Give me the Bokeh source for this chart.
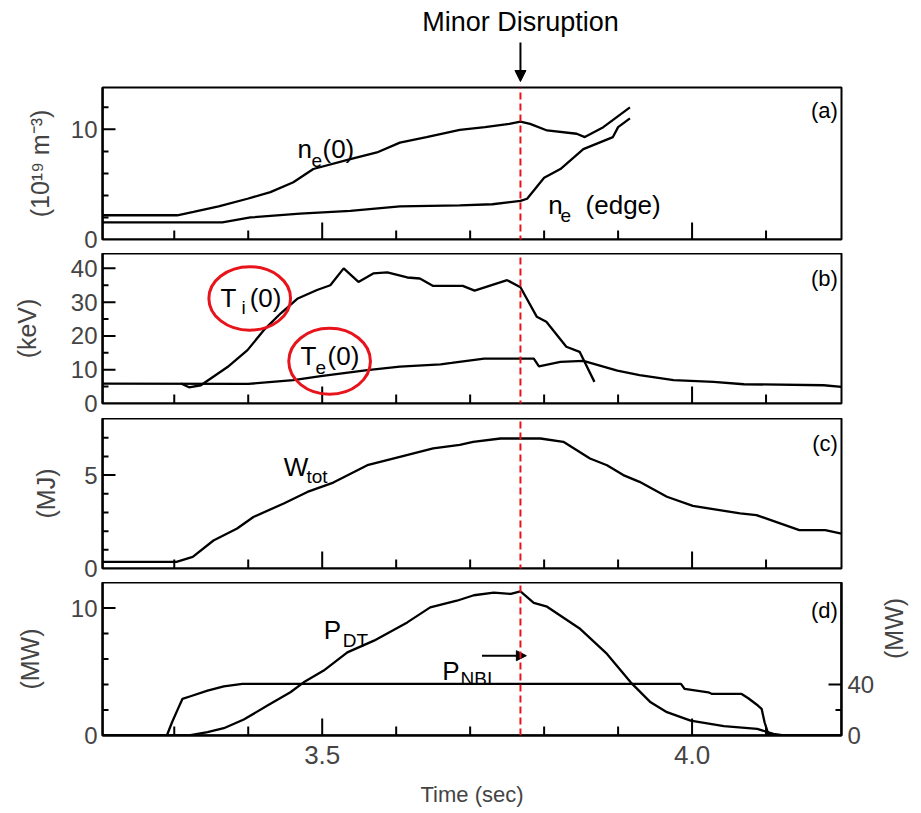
import math
from bokeh.plotting import figure
from bokeh.layouts import column
from bokeh.models import (Range1d, LinearAxis, FixedTicker, Arrow, NormalHead,
                          PrintfTickFormatter, Label)
from bokeh.core.properties import value
from bokeh.embed import file_html
from bokeh.resources import INLINE

FONT = "Liberation Sans"
RED = "#e8141c"

# ---------------- data (time in s) ----------------
T_MIN, T_MAX = 3.203, 4.202
DISRUPT_T = 3.768
x_major = [3.5, 4.0]
x_minor = [3.3, 3.4, 3.6, 3.7, 3.8, 3.9, 4.1]

# (a) density, 1e19 m^-3
ne0_t = [3.203, 3.304, 3.326, 3.36, 3.399, 3.43, 3.461, 3.488, 3.538, 3.574, 3.605, 3.641,
         3.686, 3.72, 3.753, 3.768, 3.781, 3.804, 3.844, 3.855, 3.880, 3.916]
ne0_v = [2.2, 2.2, 2.5, 3.0, 3.7, 4.3, 5.2, 6.4, 7.3, 7.9, 8.8, 9.3,
         9.95, 10.2, 10.5, 10.7, 10.5, 9.9, 9.6, 9.3, 10.2, 12.0]
needge_t = [3.203, 3.365, 3.403, 3.47, 3.538, 3.605, 3.686, 3.73, 3.768, 3.777, 3.8, 3.822,
            3.853, 3.893, 3.9, 3.916]
needge_v = [1.55, 1.55, 2.0, 2.35, 2.6, 3.0, 3.1, 3.2, 3.5, 3.7, 5.6, 6.4,
            8.2, 9.3, 10.2, 11.0]

# (b) temperatures, keV
ti_t = [3.309, 3.32, 3.336, 3.372, 3.399, 3.421, 3.444, 3.467, 3.493, 3.511, 3.529, 3.549,
        3.569, 3.588, 3.615, 3.632, 3.65, 3.69, 3.706, 3.75, 3.768, 3.79, 3.803, 3.83,
        3.848, 3.868]
ti_v = [5.9, 4.8, 5.4, 10.8, 15.8, 21.7, 26.7, 31.1, 33.6, 35.0, 40.0, 36.0,
        38.5, 38.8, 37.3, 37.0, 34.8, 34.8, 33.4, 36.5, 34.4, 25.7, 24.2, 16.8,
        15.3, 6.4]
te_t = [3.203, 3.40, 3.461, 3.498, 3.561, 3.605, 3.66, 3.675, 3.719, 3.786, 3.793, 3.822,
        3.853, 3.899, 3.929, 3.975, 4.029, 4.07, 4.178, 4.202]
te_v = [5.9, 5.8, 6.9, 8.1, 9.9, 10.9, 11.6, 12.0, 13.3, 13.3, 11.0, 12.3,
        12.6, 9.7, 8.4, 6.9, 6.4, 5.7, 5.4, 4.9]

# (c) stored energy, MJ
w_t = [3.203, 3.303, 3.325, 3.353, 3.385, 3.407, 3.448, 3.48, 3.515, 3.561, 3.605, 3.65,
       3.686, 3.704, 3.741, 3.795, 3.826, 3.862, 3.885, 3.907, 3.929, 3.966, 4.001,
       4.065, 4.087, 4.145, 4.18, 4.202]
w_v = [0.36, 0.36, 0.62, 1.5, 2.14, 2.76, 3.48, 4.1, 4.6, 5.53, 5.98, 6.43,
       6.62, 6.78, 6.96, 6.96, 6.78, 5.89, 5.53, 5.0, 4.64, 3.84, 3.35,
       2.95, 2.86, 2.05, 2.05, 1.87]

# (d) fusion power (left, MW) and beam power (right, MW)
pdt_t = [3.203, 3.32, 3.345, 3.367, 3.394, 3.426, 3.457, 3.475, 3.502, 3.534, 3.57, 3.615,
         3.646, 3.682, 3.705, 3.732, 3.755, 3.768, 3.786, 3.804, 3.849, 3.885, 3.917,
         3.944, 3.966, 3.998, 4.043, 4.088, 4.11, 4.124, 4.202]
pdt_v = [0, 0, 0.26, 0.57, 1.25, 2.35, 3.39, 4.17, 5.09, 6.52, 7.44, 8.87,
         10.05, 10.57, 11.0, 11.2, 11.1, 11.3, 10.4, 10.1, 8.35, 6.4, 4.17,
         2.6, 1.83, 1.17, 0.73, 0.52, 0.13, 0, 0]
nbi_t = [3.203, 3.29, 3.297, 3.305, 3.311, 3.322, 3.345, 3.367, 3.392, 3.985, 3.99, 4.022,
         4.027, 4.067, 4.076, 4.089, 4.094, 4.098, 4.103, 4.107, 4.202]
nbi_v = [0, 0, 10.4, 20.9, 28.7, 30.8, 35.2, 38.6, 40.5, 40.5, 36.5, 33.9,
         32.6, 32.6, 29.2, 23.5, 20.9, 10.4, 1.3, 0, 0]

xr = Range1d(T_MIN, T_MAX)
FRAME_W = 739
MAIN, SUB, TAG, TICK, ALAB = "26px", "19px", "22px", "24px", "25px"


def lab(p, x, y, s, size=MAIN, align="left"):
    p.add_layout(Label(x=x, y=y, text=s, text_font=FONT, text_font_size=size,
                       text_align=align, text_baseline="middle", text_color="black"))


def bottom_path(marks, y_edge):
    # continuous path along the bottom frame edge with an inward spike at every tick
    xs, ys = [T_MIN], [y_edge]
    for t, ln in sorted(marks):
        xs += [t, t, t]
        ys += [y_edge, y_edge + ln, y_edge]
    xs.append(T_MAX)
    ys.append(y_edge)
    return xs, ys


def side_path(marks, x_edge, y_lo, y_hi):
    # continuous path along a vertical frame edge with an inward spike at every tick
    xs, ys = [x_edge], [y_lo]
    for v, ln in sorted(marks):
        xs += [x_edge, x_edge + ln, x_edge]
        ys += [v, v, v]
    xs.append(x_edge)
    ys.append(y_hi)
    return xs, ys


def panel(frame_h, ymax, top, bottom, ymajor, yminor, ylabel, lab_standoff, show_x=False):
    p = figure(frame_width=FRAME_W, frame_height=frame_h, x_range=xr, y_range=Range1d(0, ymax),
               min_border_left=102, min_border_right=80, min_border_top=top,
               min_border_bottom=bottom, toolbar_location=None, output_backend="svg")
    p.xgrid.visible = False
    p.ygrid.visible = False
    p.outline_line_color = "black"
    p.outline_line_width = 2

    xa = p.xaxis[0]
    if show_x:
        xa.ticker = FixedTicker(ticks=x_major, minor_ticks=x_minor)
        xa.formatter = PrintfTickFormatter(format="%.1f")
        xa.major_tick_in = 0
        xa.major_tick_out = 0
        xa.minor_tick_in = 0
        xa.minor_tick_out = 0
        xa.axis_line_width = 2
        xa.major_label_text_font = FONT
        xa.major_label_text_font_size = "26px"
        xa.major_label_standoff = 10
        xa.axis_label = "Time (sec)"
        xa.axis_label_text_font = FONT
        xa.axis_label_text_font_size = "22px"
        xa.axis_label_text_font_style = "normal"
        xa.axis_label_standoff = 15
    else:
        xa.visible = False

    ya = p.yaxis[0]
    ya.ticker = FixedTicker(ticks=ymajor, minor_ticks=yminor)
    ya.major_tick_in = 0
    ya.major_tick_out = 0
    ya.minor_tick_in = 0
    ya.minor_tick_out = 0
    ya.axis_line_width = 2
    ya.major_label_text_font = FONT
    ya.major_label_text_font_size = TICK
    ya.major_label_standoff = 5
    ya.axis_label = ylabel
    ya.axis_label_text_font = FONT
    ya.axis_label_text_font_size = ALAB
    ya.axis_label_text_font_style = "normal"
    ya.axis_label_standoff = lab_standoff

    # inward tick marks (pixel lengths converted to data units)
    dy = ymax / frame_h
    dx = (T_MAX - T_MIN) / FRAME_W
    bx, by = bottom_path([(t, 17 * dy) for t in x_major] + [(t, 9 * dy) for t in x_minor], 0)
    p.line(bx, by, line_color="black", line_width=2)
    lx, ly = side_path([(v, 13 * dx) for v in ymajor if 0 < v < ymax] +
                       [(v, 6 * dx) for v in yminor], T_MIN, 0, ymax)
    p.line(lx, ly, line_color="black", line_width=2)
    return p


def red_line(p, y0, y1):
    p.add_layout(Arrow(end=None, x_start=DISRUPT_T, y_start=y0, x_end=DISRUPT_T, y_end=y1,
                       line_color=RED, line_width=2, line_dash="7 4"))


# ---------------- header ----------------
p0 = figure(frame_width=FRAME_W, frame_height=84, x_range=xr, y_range=Range1d(0, 84),
            min_border_left=102, min_border_right=80, min_border_top=0, min_border_bottom=0,
            x_axis_type=None, y_axis_type=None, toolbar_location=None, output_backend="svg")
p0.outline_line_color = None
p0.text(x=[DISRUPT_T], y=[62.5], text=["Minor Disruption"], text_font=value(FONT),
        text_font_size="27px", text_align="center", text_baseline="middle",
        text_color="black")
p0.add_layout(Arrow(end=NormalHead(size=11, fill_color="black", line_color="black"),
                    x_start=DISRUPT_T, y_start=42, x_end=DISRUPT_T, y_end=3,
                    line_color="black", line_width=2))

# ---------------- (a) ----------------
pa = panel(152, 13.8, 3, 14, [0, 10], [2, 4, 6, 8, 12], "(10¹⁹ m⁻³)", 14)
pa.line(ne0_t, ne0_v, line_color="black", line_width=2.3)
pa.line(needge_t, needge_v, line_color="black", line_width=2.3)
lab(pa, 3.4666, 8.18, "n")
lab(pa, 3.4855, 7.18, "e", size=SUB)
lab(pa, 3.5004, 8.18, "(0)")
lab(pa, 3.8055, 3.09, "n")
lab(pa, 3.8222, 2.18, "e", size=SUB)
lab(pa, 3.856, 3.09, "(edge)")
lab(pa, 4.197, 11.68, "(a)", size=TAG, align="right")
red_line(pa, -1.27, 13.8)

# ---------------- (b) ----------------
pb = panel(150, 44.4, 0, 15, [0, 10, 20, 30, 40], [5, 15, 25, 35], "(keV)", 27)
pb.line(te_t, te_v, line_color="black", line_width=2.3)
pb.line(ti_t, ti_v, line_color="black", line_width=2.3)
lab(pb, 3.3625, 31.1, "T")
lab(pb, 3.3909, 28.4, "i", size=SUB)
lab(pb, 3.4020, 31.1, "(0)")
lab(pb, 3.4707, 14.0, "T")
lab(pb, 3.4910, 10.6, "e", size=SUB)
lab(pb, 3.5072, 14.0, "(0)")
lab(pb, 4.197, 37.0, "(b)", size=TAG, align="right")
pb.ellipse(x=[3.402, 3.510], y=[31.1, 12.5], width=[0.1104, 0.1104], height=[18.8, 19.5],
           fill_color=None, line_color=RED, line_width=3)
red_line(pb, -4.44, 44.4)

# ---------------- (c) ----------------
pc = panel(150, 8.03, 0, 14, [0, 5], [1, 2, 3, 4, 6, 7], "(MJ)", 21)
pc.line(w_t, w_v, line_color="black", line_width=2.3)
lab(pc, 3.4481, 5.44, "W")
lab(pc, 3.4788, 4.9, "tot", size=SUB)
lab(pc, 4.197, 6.71, "(c)", size=TAG, align="right")
red_line(pc, -0.75, 8.03)

# ---------------- (d) ----------------
pd_ = panel(153, 12.0, 0, 78, [0, 10], [2, 4, 6, 8], "(MW)", 24, show_x=True)
pd_.extra_y_ranges = {"nbi": Range1d(0, 120)}
pd_.line(pdt_t, pdt_v, line_color="black", line_width=2.3)
pd_.line(nbi_t, nbi_v, line_color="black", line_width=2.3, y_range_name="nbi")
ra = LinearAxis(y_range_name="nbi", ticker=FixedTicker(ticks=[0, 40], minor_ticks=[20]))
ra.major_tick_in = 0
ra.major_tick_out = 0
ra.minor_tick_in = 0
ra.minor_tick_out = 0
ra.axis_line_width = 2
ra.major_label_text_font = FONT
ra.major_label_text_font_size = TICK
ra.major_label_standoff = 6
ra.axis_label = "(MW)"
ra.axis_label_text_font = FONT
ra.axis_label_text_font_size = ALAB
ra.axis_label_text_font_style = "normal"
ra.axis_label_standoff = 17
try:
    ra.axis_label_orientation = math.pi / 2
except Exception:
    pass
pd_.add_layout(ra, "right")
dx_d = (T_MAX - T_MIN) / FRAME_W
rx, ry = side_path([(20, -6 * dx_d), (40, -13 * dx_d)], T_MAX, 0, 120)
pd_.line(rx, ry, line_color="black", line_width=2, y_range_name="nbi")
lab(pd_, 3.5022, 8.25, "P")
lab(pd_, 3.5277, 7.44, "DT", size=SUB)
lab(pd_, 3.6622, 5.03, "P")
lab(pd_, 3.6870, 4.5, "NBI", size=SUB)
pd_.add_layout(Arrow(end=NormalHead(size=10, fill_color="black", line_color="black"),
                     x_start=3.716, y_start=6.26, x_end=3.776, y_end=6.26,
                     line_color="black", line_width=2))
lab(pd_, 4.197, 9.79, "(d)", size=TAG, align="right")
red_line(pd_, 0, 12.0)

layout = column(p0, pa, pb, pc, pd_, spacing=0)
open("out.html", "w").write(file_html(layout, INLINE))
